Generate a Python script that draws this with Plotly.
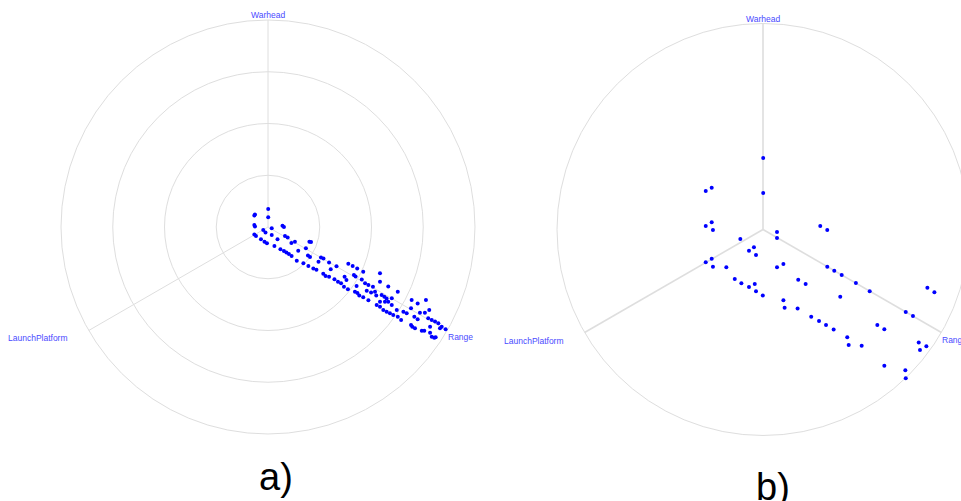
import plotly.graph_objects as go
import math

# Axis names of the star/radviz layouts
axis_names = ["Warhead", "Range", "LaunchPlatform"]
axis_angles_deg = [90, -30, 210]

# Panel a) projected points (unit-circle coordinates)
a_x = [0.001, 0.001, -0.066, -0.063, -0.066, -0.063, -0.066, -0.058, -0.023, -0.012,
       0.018, 0.070, 0.077, 0.018, 0.046, 0.082, 0.095, 0.130, 0.113, -0.034,
       -0.017, -0.005, 0.031, 0.060, 0.077, 0.089, 0.101, 0.114, 0.146, 0.183,
       0.200, 0.208, 0.139, 0.171, 0.193, 0.203, 0.195, 0.219, 0.234, 0.244,
       0.256, 0.268, 0.295, 0.331, 0.303, 0.267, 0.278, 0.295, 0.321, 0.338,
       0.353, 0.370, 0.379, 0.388, 0.409, 0.431, 0.460, 0.415, 0.423, 0.453,
       0.469, 0.428, 0.367, 0.386, 0.420, 0.432, 0.441, 0.460, 0.485, 0.477,
       0.485, 0.507, 0.498, 0.517, 0.541, 0.541, 0.523, 0.549, 0.562, 0.581,
       0.627, 0.573, 0.598, 0.541, 0.565, 0.581, 0.598, 0.525, 0.541, 0.557,
       0.573, 0.589, 0.605, 0.627, 0.643, 0.622, 0.654, 0.670, 0.694, 0.723,
       0.763, 0.691, 0.707, 0.723, 0.734, 0.758, 0.779, 0.774, 0.791, 0.807,
       0.823, 0.839, 0.858, 0.691, 0.697, 0.710, 0.783, 0.743, 0.755, 0.791,
       0.803, 0.810, 0.831, 0.783]
a_y = [0.087, 0.047, 0.055, 0.060, 0.010, 0.002, -0.036, -0.043, -0.014, -0.027,
       -0.006, 0.006, 0.000, -0.039, -0.059, -0.043, -0.051, -0.071, -0.077, -0.059,
       -0.071, -0.079, -0.092, -0.108, -0.116, -0.123, -0.130, -0.140, -0.115, -0.103,
       -0.071, -0.072, -0.163, -0.175, -0.138, -0.145, -0.188, -0.200, -0.207, -0.168,
       -0.147, -0.152, -0.171, -0.190, -0.204, -0.226, -0.237, -0.240, -0.253, -0.264,
       -0.272, -0.240, -0.256, -0.178, -0.188, -0.200, -0.216, -0.232, -0.239, -0.254,
       -0.272, -0.285, -0.289, -0.301, -0.313, -0.319, -0.331, -0.340, -0.354, -0.308,
       -0.280, -0.289, -0.317, -0.313, -0.224, -0.264, -0.331, -0.329, -0.337, -0.288,
       -0.313, -0.345, -0.344, -0.361, -0.361, -0.361, -0.377, -0.377, -0.385, -0.401,
       -0.409, -0.417, -0.425, -0.433, -0.449, -0.401, -0.409, -0.417, -0.353, -0.369,
       -0.353, -0.393, -0.433, -0.446, -0.414, -0.414, -0.401, -0.441, -0.449, -0.457,
       -0.465, -0.482, -0.494, -0.473, -0.482, -0.489, -0.482, -0.501, -0.501, -0.530,
       -0.535, -0.533, -0.489, -0.511]

# Panel b) projected points (unit-circle coordinates)
b_x = [0.001, 0.001, -0.278, -0.249, -0.278, -0.249, -0.243, 0.068, 0.068, 0.278,
       0.312, -0.110, -0.044, -0.068, -0.034, -0.278, -0.249, -0.243, -0.178, 0.068,
       0.099, 0.312, 0.346, 0.382, 0.451, 0.518, 0.171, 0.207, -0.137, -0.105,
       -0.068, -0.040, -0.034, -0.001, 0.375, 0.099, 0.105, 0.168, 0.234, 0.272,
       0.306, 0.343, 0.409, 0.416, 0.479, 0.555, 0.589, 0.693, 0.728, 0.798,
       0.832, 0.756, 0.793, 0.762, 0.589, 0.691, 0.693]
b_y = [0.347, 0.177, 0.187, 0.203, 0.017, 0.035, -0.002, -0.012, -0.041, 0.017,
       -0.002, -0.046, -0.086, -0.103, -0.124, -0.159, -0.142, -0.181, -0.183, -0.183,
       -0.167, -0.181, -0.200, -0.221, -0.260, -0.300, -0.244, -0.265, -0.240, -0.261,
       -0.279, -0.265, -0.300, -0.321, -0.326, -0.344, -0.380, -0.383, -0.423, -0.444,
       -0.464, -0.485, -0.523, -0.561, -0.564, -0.464, -0.484, -0.400, -0.420, -0.283,
       -0.305, -0.548, -0.567, -0.585, -0.661, -0.683, -0.722]

a_rings = [0.25, 0.5, 0.75, 1.0]
b_rings = [1.0]
panel_labels = ["a)", "b)"]

POINT = "#0000ff"
LABEL = "#4a4aff"
GRID = "#dedede"
FONT = "Arial, Liberation Sans, sans-serif"

fig = go.Figure()
fig.add_trace(go.Scatter(x=a_x, y=a_y, mode="markers", xaxis="x", yaxis="y",
                         marker=dict(size=4, color=POINT), hoverinfo="skip"))
fig.add_trace(go.Scatter(x=b_x, y=b_y, mode="markers", xaxis="x2", yaxis="y2",
                         marker=dict(size=4, color=POINT), hoverinfo="skip"))

shapes = []
annotations = []
for (xr, yr, rings, spoke_w) in [("x", "y", a_rings, 1), ("x2", "y2", b_rings, 1.6)]:
    for r in rings:
        shapes.append(dict(type="circle", xref=xr, yref=yr, x0=-r, y0=-r, x1=r, y1=r,
                           line=dict(color=GRID, width=1), layer="below"))
    for name, ang in zip(axis_names, axis_angles_deg):
        cx = math.cos(math.radians(ang))
        cy = math.sin(math.radians(ang))
        shapes.append(dict(type="line", xref=xr, yref=yr, x0=0, y0=0, x1=cx, y1=cy,
                           line=dict(color=GRID, width=spoke_w), layer="below"))
        if name == "Warhead":
            annotations.append(dict(x=cx, y=cy, xref=xr, yref=yr, text=name, showarrow=False,
                                    xanchor="center", yanchor="bottom", yshift=-2,
                                    font=dict(size=8.5, color=LABEL, family=FONT)))
        elif name == "Range":
            annotations.append(dict(x=cx, y=cy, xref=xr, yref=yr, text=name, showarrow=False,
                                    xanchor="left", yanchor="middle", yshift=-7, xshift=-1,
                                    font=dict(size=8.5, color=LABEL, family=FONT)))
        else:
            annotations.append(dict(x=cx, y=cy, xref=xr, yref=yr, text=name, showarrow=False,
                                    xanchor="right", yanchor="middle", yshift=-8, xshift=-19,
                                    font=dict(size=8.5, color=LABEL, family=FONT)))

annotations.append(dict(x=0.04, y=-1.209, xref="x", yref="y", text=panel_labels[0],
                        showarrow=False, xanchor="center", yanchor="middle",
                        font=dict(size=38, color="black", family=FONT)))
annotations.append(dict(x=0.05, y=-1.25, xref="x2", yref="y2", text=panel_labels[1],
                        showarrow=False, xanchor="center", yanchor="middle",
                        font=dict(size=38, color="black", family=FONT)))

ax_common = dict(visible=False, showgrid=False, zeroline=False, fixedrange=True)
fig.update_layout(
    width=961, height=501,
    margin=dict(l=0, r=0, t=0, b=0),
    paper_bgcolor="white", plot_bgcolor="white",
    showlegend=False,
    xaxis=dict(domain=[0, 0.5], range=[-1.2947, 1.0266], **ax_common),
    yaxis=dict(domain=[0, 1], range=[-1.3237, 1.0966], **ax_common),
    xaxis2=dict(domain=[0.5, 1], range=[-1.3714, 0.9612], **ax_common),
    yaxis2=dict(domain=[0, 1], range=[-1.3180, 1.1141], anchor="x2", **ax_common),
    shapes=shapes,
    annotations=annotations,
)

fig.write_html("out.html", config={"displayModeBar": False},
               post_script="document.body.style.margin='0';document.body.style.overflow='hidden';")
